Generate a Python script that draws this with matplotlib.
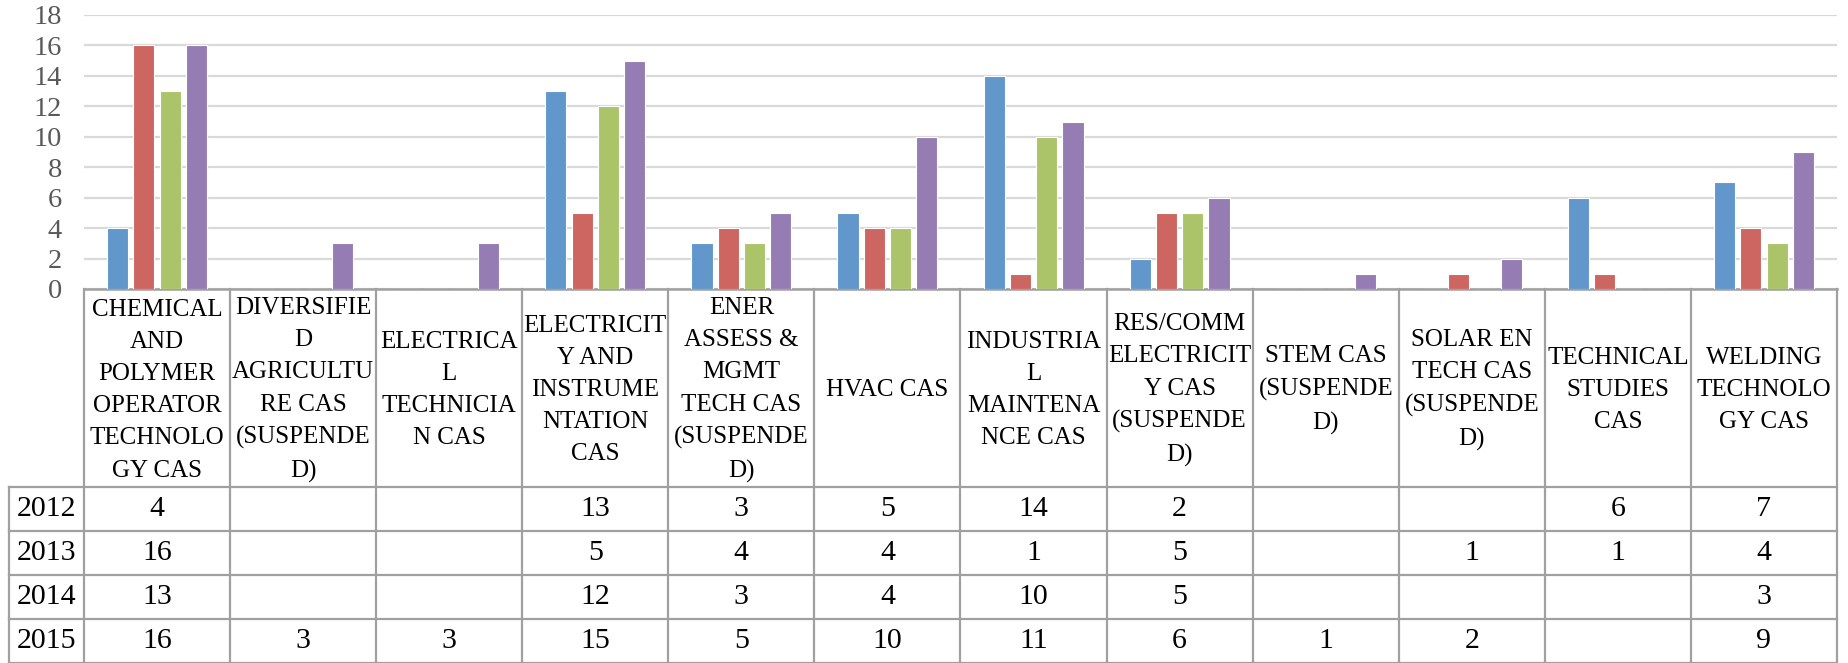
import matplotlib
matplotlib.use("Agg")
import matplotlib.pyplot as plt
import numpy as np

# categories as wrapped in the original data table
categories = [
    "CHEMICAL\nAND\nPOLYMER\nOPERATOR\nTECHNOLO\nGY CAS",
    "DIVERSIFIE\nD\nAGRICULTU\nRE CAS\n(SUSPENDE\nD)",
    "ELECTRICA\nL\nTECHNICIA\nN CAS",
    "ELECTRICIT\nY AND\nINSTRUME\nNTATION\nCAS",
    "ENER\nASSESS &\nMGMT\nTECH CAS\n(SUSPENDE\nD)",
    "HVAC CAS",
    "INDUSTRIA\nL\nMAINTENA\nNCE CAS",
    "RES/COMM\nELECTRICIT\nY CAS\n(SUSPENDE\nD)",
    "STEM CAS\n(SUSPENDE\nD)",
    "SOLAR EN\nTECH CAS\n(SUSPENDE\nD)",
    "TECHNICAL\nSTUDIES\nCAS",
    "WELDING\nTECHNOLO\nGY CAS",
]
years = ["2012", "2013", "2014", "2015"]
v2012 = [4, None, None, 13, 3, 5, 14, 2, None, None, 6, 7]
v2013 = [16, None, None, 5, 4, 4, 1, 5, None, 1, 1, 4]
v2014 = [13, None, None, 12, 3, 4, 10, 5, None, None, None, 3]
v2015 = [16, 3, 3, 15, 5, 10, 11, 6, 1, 2, None, 9]
series = [v2012, v2013, v2014, v2015]
colors = ["#6197CB", "#CD6560", "#ABC46A", "#957CB2"]
yticks = [0, 2, 4, 6, 8, 10, 12, 14, 16, 18]

W, H = 1849, 663
fig = plt.figure(figsize=(W / 100, H / 100), dpi=100)

serif = ["Liberation Serif", "DejaVu Serif"]
grid_c = "#D9D9D9"
line_c = "#A0A0A0"

# pixel layout
plot_l, plot_r, plot_t, plot_b = 84, 1837, 15, 289
year_l = 9
header_h = 198
row_h = 44

ax = fig.add_axes([plot_l / W, 1 - plot_b / H, (plot_r - plot_l) / W, (plot_b - plot_t) / H])
n = len(categories)
x = np.arange(n)
step, bw = 0.18, 0.145
for i, (vals, c) in enumerate(zip(series, colors)):
    h = [v if v is not None else 0 for v in vals]
    ax.bar(x + (i - 1.5) * step, h, width=bw, color=c, edgecolor="white",
           linewidth=0.8, zorder=3)
ax.set_xlim(-0.5, n - 0.5)
ax.set_ylim(0, 18)
ax.set_yticks(yticks)
ax.set_yticklabels([str(t) for t in yticks], family=serif, fontsize=20.5, color="#595959")
ax.set_xticks([])
ax.tick_params(axis="y", length=0, pad=16)
ax.grid(axis="y", color=grid_c, lw=1.6, zorder=0)
for s in ["left", "right", "top"]:
    ax.spines[s].set_visible(False)
ax.spines["bottom"].set_color(line_c)
ax.spines["bottom"].set_linewidth(1.8)

# data table below the chart
unit = (plot_r - plot_l) / n
ycol = (plot_l - year_l) / unit
tab = fig.add_axes([year_l / W, 0, (plot_r - year_l) / W, (H - plot_b) / H])
tab.set_xlim(-0.5 - ycol, n - 0.5)
tab.set_ylim(H - plot_b, 0)
tab.axis("off")
tot_h = header_h + row_h * len(years)
kw = dict(color=line_c, lw=1.6, clip_on=False)
# vertical lines
for k in range(n + 1):
    tab.plot([k - 0.5, k - 0.5], [0, tot_h], **kw)
tab.plot([-0.5 - ycol] * 2, [header_h, tot_h], **kw)
# horizontal lines
for r in range(len(years) + 1):
    yy = header_h + r * row_h
    tab.plot([-0.5 - ycol, n - 0.5], [yy, yy], **kw)

for k, cat in enumerate(categories):
    tab.text(k, header_h / 2 + 2, cat, ha="center", va="center", multialignment="center",
             family=serif, fontsize=18, linespacing=1.6, color="black")
for r, (yr, vals) in enumerate(zip(years, series)):
    yc = header_h + (r + 0.5) * row_h
    tab.text(-0.5 - ycol + 0.05, yc, yr, ha="left", va="center", family=serif,
             fontsize=21.5, color="black")
    for k, v in enumerate(vals):
        if v is not None:
            tab.text(k, yc, str(v), ha="center", va="center", family=serif,
                     fontsize=21.5, color="black")

fig.savefig("out.png", dpi=100, facecolor="white")
